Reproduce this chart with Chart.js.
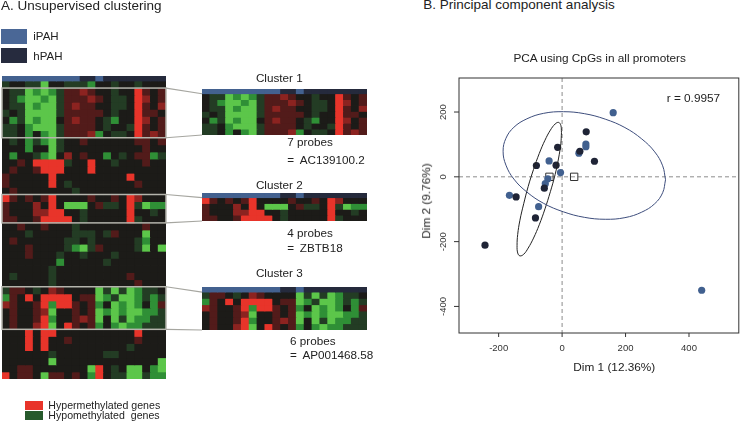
<!DOCTYPE html>
<html>
<head>
<meta charset="utf-8">
<script src="https://cdn.jsdelivr.net/npm/chart.js@4.4.1/dist/chart.umd.min.js"></script>
<style>
  body { margin: 0; background: #fff; width: 745px; height: 424px; position: relative; overflow: hidden;
         font-family: "Liberation Sans", Arial, sans-serif; color: #222; }
  .t { position: absolute; white-space: pre; line-height: 1; }
  .sw { position: absolute; }
  canvas { position: absolute; }
</style>
</head>
<body>
<canvas id="heatMain" width="166" height="303" style="left:1px;top:76px"></canvas>
<canvas id="heatC1" width="167" height="46" style="left:201px;top:89px"></canvas>
<canvas id="heatC2" width="167" height="28" style="left:201px;top:193px"></canvas>
<canvas id="heatC3" width="167" height="43" style="left:201px;top:287px"></canvas>
<canvas id="links" width="380" height="424" style="left:0;top:0;pointer-events:none"></canvas>
<canvas id="pca" width="365" height="384" style="left:380px;top:40px"></canvas>

<script>
// sample annotation of the heatmap columns
const sampleGroup = ['iPAH', 'iPAH', 'iPAH', 'iPAH', 'iPAH', 'iPAH', 'iPAH', 'iPAH', 'iPAH', 'iPAH',
  'hPAH', 'hPAH', 'iPAH', 'hPAH', 'hPAH', 'hPAH', 'hPAH', 'hPAH', 'hPAH', 'hPAH', 'hPAH'];

// methylation level per cell: G/g/d = hypo (strong..weak), k = none, m/r/R = hyper (weak..strong)
const methRows = [
  'dkkddGkkdddgkkdkkdkkk',
  'kddGgGgdmmrmkkdkkRmkm',
  'kdgGGgGdmmmrmkddkRrkm',
  'kddGgGGdmrmmkkddkRmkr',
  'dkdGGGGdmmmmmkdkkRmmk',
  'kgdGgGGkmrmmkdgkkRrkm',
  'ddkgGGGdmmmmkdkkdRmkm',
  'ddkgkgGdmmmrgkddkRmrm',
  'kdkgdgGdkkmkkkkkkmmkm',
  'kkkgkkGdkkkkkkkkkkmkk',
  'kgkkdgGkrkmkkgkdkmmgd',
  'kkmkRRRRdkkRkkdkkkmkk',
  'kmkkmRRRkkkRkkkkkkkkk',
  'mkkkkkRkkkkkkkkkRkkkk',
  'mkkkkkRkdkkkkkkkkmkkk',
  'kmkkkkkkkdkkkkkkkkkkk',
  'RmkmkmRkkkkmkkmkRrkkk',
  'mkkkrkRkGGGkmddkRdGgg',
  'mkkkrrRRkkdkkkkkRkkdk',
  'mmkkmRRRRkdkkkkkRdkkk',
  'kkmkkmkkkdkkkkkkkkmkk',
  'kkkdkkkkkdddkdmkkkGkk',
  'kmkkkkkkddkdkkkkkdgkk',
  'kkkmkkkkdgGdmkkkkdGkG',
  'kkkmkkkdkkdkkkdkkkkkk',
  'kkkkkkkgkkkkkdkkkkkkk',
  'kkkkkkdkkkkkkkkkkkkkk',
  'kdkkkkdkkkkkkkkkmkkkk',
  'kkkkkkdkkkkkkkkkkmkkk',
  'dmmkdkrmkkkkGdGdGgddk',
  'gmkRkRRRRkmmGgdGGgdgd',
  'rmkkmRgRRmkmgkGgGgkgm',
  'kmkkmrGkkmkmGgGgGGggd',
  'kmkkmRgkkmrmGkGdGggdd',
  'kmkkrRGkRmkmgkgGggddd',
  'kkkRkRRkkkkkkkkkkRkkk',
  'kkkRkRkkmkkkkkkkkmkkk',
  'kkkRkRkkkkkkkkkkdkkkk',
  'kkkkkkdkkkkkkddkkkkkk',
  'kkkkkkGkkkkkkkkkkkkkG',
  'kkmmkkkkkkkGRkdkGGkgG',
  'RkmmkGmmkmkgRkddGGdgg'
];

const clusterNames = ['Cluster 1', 'Cluster 2', 'Cluster 3'];
const clusterFirstRow = [1, 16, 29];
const clusterRowCount = [7, 4, 6];
const clusterGene = ['AC139100.2', 'ZBTB18', 'AP001468.58'];

// PCA scores
const pcaDim1 = [161, 76, -14, 56, 53, 75, 75, 102, -41, -81, -19, -5, -45, -53, -56, -166, -145, -74, -84, -243, 440];
const pcaDim2 = [198, 139, 91, 79, 73, 101, 93, 48, 49, 35, 36, 13, -6, -21, -35, -57, -62, -92, -127, -211, -350];
const pcaGroup = ['iPAH', 'hPAH', 'hPAH', 'hPAH', 'iPAH', 'iPAH', 'iPAH', 'hPAH', 'iPAH', 'hPAH', 'hPAH',
  'iPAH', 'iPAH', 'iPAH', 'hPAH', 'iPAH', 'hPAH', 'iPAH', 'hPAH', 'hPAH', 'iPAH'];
const centroidGroup = ['iPAH', 'hPAH'];
const centroidDim1 = [38, -40];
const centroidDim2 = [0, 0];

// confidence ellipses
const ellipseIDim1 = [326, 317, 292, 251, 198, 136, 70, 4, -58, -111, -152, -177, -186, -177, -152, -111, -58, 4, 70, 136, 198, 251, 292, 317, 326];
const ellipseIDim2 = [-9, 34, 77, 117, 152, 178, 195, 201, 196, 179, 153, 119, 79, 36, -7, -47, -82, -108, -125, -131, -126, -109, -83, -49, -9];
const ellipseHDim1 = [-2, -4, -11, -22, -37, -54, -72, -90, -107, -121, -133, -140, -142, -140, -133, -121, -107, -90, -72, -54, -37, -22, -11, -4, -2];
const ellipseHDim2 = [136, 159, 168, 163, 144, 113, 72, 23, -30, -83, -134, -178, -212, -235, -244, -239, -220, -189, -148, -99, -46, 7, 58, 102, 136];

const xTicks = [-200, 0, 200, 400];
const yTicks = [-400, -200, 0, 200];

const levelColor = { G: '#5cc64a', g: '#2f8f36', d: '#233c24', k: '#1c1b18', m: '#521b1a', r: '#8c2320', R: '#e8342a' };
const groupColor = { iPAH: '#43618f', hPAH: '#252a3c' };
const pointColor = { iPAH: '#41608f', hPAH: '#1f2436' };
const FONT = '"Liberation Sans", Arial, sans-serif';

function heatChart(id, rows, barUnits, boxes) {
  const boxPlugin = {
    id: 'clusterBoxes',
    afterDatasetsDraw(chart) {
      const ctx = chart.ctx, y = chart.scales.y, a = chart.chartArea;
      ctx.save();
      ctx.strokeStyle = '#b4b4ac';
      ctx.lineWidth = 1.5;
      boxes.forEach(b => {
        const top = y.getPixelForValue(barUnits + b.first);
        const bot = y.getPixelForValue(barUnits + b.first + b.count);
        ctx.strokeRect(a.left, top, a.right - a.left, bot - top);
      });
      ctx.restore();
    }
  };
  const datasets = [{
    data: sampleGroup.map(() => barUnits),
    backgroundColor: sampleGroup.map(g => groupColor[g])
  }];
  rows.forEach(row => {
    const cells = row.split('');
    datasets.push({ data: cells.map(() => 1), backgroundColor: cells.map(c => levelColor[c]) });
  });
  return new Chart(document.getElementById(id), {
    type: 'bar',
    data: { labels: sampleGroup.map((g, i) => 'S' + (i + 1)), datasets: datasets },
    options: {
      responsive: false,
      animation: false,
      layout: { padding: { left: 1, right: 1, top: 0, bottom: 0 } },
      plugins: { legend: { display: false }, tooltip: { enabled: false } },
      datasets: { bar: { barPercentage: 1, categoryPercentage: 1, borderWidth: 0, inflateAmount: 0.4 } },
      scales: {
        x: { display: false, stacked: true },
        y: { display: false, stacked: true, reverse: true, min: 0, max: barUnits + rows.length }
      }
    },
    plugins: [boxPlugin]
  });
}

const MAIN_BAR = 0.7, INSET_BAR = 0.8;
const boxes = clusterFirstRow.map((f, i) => ({ first: f, count: clusterRowCount[i] }));
const mainChart = heatChart('heatMain', methRows, MAIN_BAR, boxes);
const insets = ['heatC1', 'heatC2', 'heatC3'].map((id, i) =>
  heatChart(id, methRows.slice(clusterFirstRow[i], clusterFirstRow[i] + clusterRowCount[i]), INSET_BAR, []));

// grey connectors from the boxes to the zoomed clusters
(function () {
  const ctx = document.getElementById('links').getContext('2d');
  const off = c => ({ x: parseFloat(c.canvas.style.left), y: parseFloat(c.canvas.style.top) });
  const mo = off(mainChart);
  ctx.strokeStyle = '#a6a6a0';
  ctx.lineWidth = 1.2;
  insets.forEach((ch, i) => {
    const io = off(ch);
    const my = mainChart.scales.y, iy = ch.scales.y;
    const x0 = mo.x + mainChart.chartArea.right, x1 = io.x + ch.chartArea.left;
    const a0 = mo.y + my.getPixelForValue(MAIN_BAR + clusterFirstRow[i]);
    const b0 = mo.y + my.getPixelForValue(MAIN_BAR + clusterFirstRow[i] + clusterRowCount[i]);
    const a1 = io.y + iy.getPixelForValue(INSET_BAR);
    const b1 = io.y + iy.getPixelForValue(INSET_BAR + clusterRowCount[i]);
    ctx.beginPath();
    ctx.moveTo(x0, a0); ctx.lineTo(x1, a1);
    ctx.moveTo(x0, b0); ctx.lineTo(x1, b1);
    ctx.stroke();
  });
})();

// PCA panel
const pcaAxes = {
  id: 'pcaAxes',
  beforeDatasetsDraw(chart) {
    const ctx = chart.ctx, a = chart.chartArea, x = chart.scales.x, y = chart.scales.y;
    ctx.save();
    ctx.strokeStyle = '#8c8c8c';
    ctx.lineWidth = 1;
    ctx.setLineDash([4, 3]);
    ctx.beginPath();
    ctx.moveTo(x.getPixelForValue(0), a.top); ctx.lineTo(x.getPixelForValue(0), a.bottom);
    ctx.moveTo(a.left, y.getPixelForValue(0)); ctx.lineTo(a.right, y.getPixelForValue(0));
    ctx.stroke();
    ctx.restore();
  },
  afterDraw(chart) {
    const ctx = chart.ctx, a = chart.chartArea, x = chart.scales.x, y = chart.scales.y;
    ctx.save();
    ctx.strokeStyle = '#333';
    ctx.lineWidth = 1;
    ctx.strokeRect(a.left, a.top, a.right - a.left, a.bottom - a.top);
    ctx.fillStyle = '#333';
    ctx.font = '9.5px ' + FONT;
    ctx.textAlign = 'center';
    ctx.textBaseline = 'middle';
    ctx.beginPath();
    xTicks.forEach(v => {
      const px = x.getPixelForValue(v);
      ctx.moveTo(px, a.bottom); ctx.lineTo(px, a.bottom + 4);
      ctx.fillText(String(v), px, a.bottom + 15);
    });
    yTicks.forEach(v => {
      const py = y.getPixelForValue(v);
      ctx.moveTo(a.left, py); ctx.lineTo(a.left - 5, py);
      ctx.save();
      ctx.translate(a.left - 16, py);
      ctx.rotate(-Math.PI / 2);
      ctx.fillText(String(v), 0, 0);
      ctx.restore();
    });
    ctx.stroke();
    ctx.restore();
  }
};

const pts = g => pcaDim1.map((v, i) => ({ x: v, y: pcaDim2[i], g: pcaGroup[i] })).filter(p => p.g === g);
const ell = (xs, ys) => xs.map((v, i) => ({ x: v, y: ys[i] }));

new Chart(document.getElementById('pca'), {
  type: 'scatter',
  data: {
    datasets: [
      { label: 'iPAH ellipse', data: ell(ellipseIDim1, ellipseIDim2), showLine: true, tension: 0.4,
        borderColor: '#3d4d7c', borderWidth: 1, pointRadius: 0, fill: false },
      { label: 'hPAH ellipse', data: ell(ellipseHDim1, ellipseHDim2), showLine: true, tension: 0.4,
        borderColor: '#222', borderWidth: 1, pointRadius: 0, fill: false },
      { label: 'hPAH', data: pts('hPAH'), pointRadius: 3.6, borderWidth: 0, backgroundColor: pointColor.hPAH },
      { label: 'iPAH', data: pts('iPAH'), pointRadius: 3.6, borderWidth: 0, backgroundColor: pointColor.iPAH },
      { label: 'centroid', data: centroidDim1.map((v, i) => ({ x: v, y: centroidDim2[i] })),
        pointStyle: 'rect', pointRadius: 5.2, borderWidth: 1, borderColor: '#333', backgroundColor: 'rgba(0,0,0,0)' }
    ]
  },
  options: {
    responsive: false,
    animation: false,
    layout: { padding: { left: 79, right: 1, top: 38, bottom: 91 } },
    plugins: { legend: { display: false }, tooltip: { enabled: false } },
    scales: {
      x: { type: 'linear', display: false, min: -325, max: 557 },
      y: { type: 'linear', display: false, min: -482, max: 305 }
    }
  },
  plugins: [pcaAxes]
});

// text labels
function addText(str, x, base, size, align, rotate) {
  const d = document.createElement('div');
  d.className = 't';
  d.textContent = str;
  d.style.fontSize = size + 'px';
  if (rotate) {
    d.style.left = x + 'px';
    d.style.top = base + 'px';
    d.style.transform = 'translate(-50%,-50%) rotate(-90deg)';
  } else {
    d.style.left = x + 'px';
    d.style.top = (base - 0.8465 * size) + 'px';
    if (align === 'center') d.style.transform = 'translateX(-50%)';
  }
  document.body.appendChild(d);
}
function addSwatch(x, y, w, h, color) {
  const d = document.createElement('div');
  d.className = 'sw';
  Object.assign(d.style, { left: x + 'px', top: y + 'px', width: w + 'px', height: h + 'px', background: color });
  document.body.appendChild(d);
}

addText('A. Unsupervised clustering', 1, 10.3, 13.5);
addSwatch(1, 28.7, 26.3, 15, '#4a6796');
addSwatch(1, 48.3, 26.3, 15, '#262b3e');
addText('iPAH', 33.3, 40.7, 11.5);
addText('hPAH', 33.3, 60.7, 11.5);

const clusterTitleBase = [82.3, 189.3, 277.3];
const probesBase = [146, 236.7, 345];
const geneBase = [164, 251.7, 359.3];
const probesX = [287.3, 287.3, 290];
clusterNames.forEach((n, i) => {
  addText(n, 279.3, clusterTitleBase[i], 11.7, 'center');
  addText(clusterRowCount[i] + ' probes', probesX[i], probesBase[i], 11.7);
  addText('=', probesX[i], geneBase[i], 11.7);
  addText(clusterGene[i], probesX[i] + 12.5, geneBase[i], 11.7);
});

addSwatch(25, 401, 17.7, 9.4, '#e8342a');
addSwatch(25, 410.6, 17.7, 9.4, '#275a2c');
addText('Hypermethylated genes', 48.3, 409.3, 10.6);
addText('Hypomethylated  genes', 48.3, 419.3, 10.6);

addText('B. Principal component analysis', 423.3, 9.5, 13.5);
addText('PCA using CpGs in all promoters', 599.7, 63, 11.8, 'center');
addText('r = 0.9957', 666.7, 103.3, 11.8);
addText('Dim 1 (12.36%)', 614.3, 371.7, 11.8, 'center');
addText('Dim 2 (9.76%)', 426.7, 200.8, 11.8, 'center', true);
</script>
</body>
</html>
